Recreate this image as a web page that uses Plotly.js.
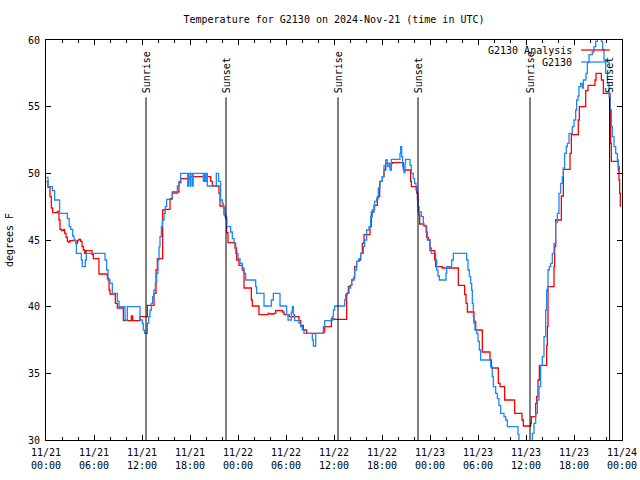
<!DOCTYPE html>
<html><head><meta charset="utf-8">
<script src="https://cdn.plot.ly/plotly-3.0.1.min.js"></script>
<style>html,body{margin:0;padding:0;background:#fff}</style>
</head><body><div id="chart" style="width:640px;height:480px"></div>
<script>
const startTime = Date.UTC(2024, 10, 21, 0, 0, 0);

const seriesNames = ['G2130 Analysis', 'G2130'];
const seriesColors = ['#ff0000', '#1a88ff'];

const analysisHours = [0.05,0.25,0.5,0.67,0.83,1.42,1.62,1.75,1.92,2.17,2.33,2.5,2.67,2.83,3.0,3.71,3.92,4.08,4.33,4.5,4.67,4.83,5.0,5.75,5.92,6.62,7.67,7.88,8.0,8.67,8.92,9.67,10.67,10.83,11.75,12.67,13.5,13.75,13.92,14.58,14.83,15.5,15.79,16.62,16.83,18.0,20.58,20.79,21.62,21.75,22.25,22.46,22.58,22.75,23.62,23.83,24.12,24.54,24.75,25.67,25.79,26.62,27.75,28.0,28.5,28.71,29.54,29.75,30.38,31.62,31.83,32.17,32.58,34.67,34.83,35.67,36.0,37.58,37.79,38.0,38.21,38.42,38.58,38.83,39.12,39.33,39.54,39.75,40.5,40.67,41.0,41.42,41.71,42.04,42.25,42.46,43.29,44.67,45.58,45.67,46.33,46.5,46.62,46.71,47.25,47.58,47.79,48.0,48.58,48.71,49.54,51.54,52.33,52.5,52.67,53.5,53.71,54.54,55.5,55.67,56.54,56.75,57.33,58.58,59.5,59.67,60.58,60.67,61.21,61.33,61.5,61.67,62.58,62.67,62.75,63.5,63.58,63.71,64.42,64.67,65.5,65.67,66.54,66.67,67.46,67.75,68.62,68.75,69.42,69.67,70.5,70.58,70.67,71.54,71.62,71.71,71.79];
const analysisTemps = [49.4,48.95,48.25,47.4,47.05,47.15,46.5,45.8,45.7,45.8,45.5,45.2,44.9,44.85,44.95,44.75,44.95,45.05,44.9,44.5,44.25,44.0,44.2,43.9,43.6,42.45,42.1,41.25,40.95,40.25,39.9,38.95,39.3,38.95,39.25,40.1,41.0,42.75,43.6,47.25,47.3,48.1,48.6,49.3,49.6,49.75,49.4,49.05,48.5,47.55,46.9,46.6,45.55,44.8,44.4,43.5,43.1,42.75,41.4,40.5,40.05,39.4,39.5,39.45,39.5,39.7,39.6,39.4,39.25,38.95,38.6,38.25,38.0,38.1,38.5,39.1,39.05,41.0,41.5,41.6,42.0,42.1,43.0,43.4,43.5,44.0,44.75,45.4,46.0,47.1,47.6,48.25,49.4,49.75,50.25,50.75,50.8,50.25,49.4,49.0,48.5,47.5,46.9,46.2,46.05,45.2,45.0,44.2,43.5,43.0,42.9,41.6,40.9,40.25,39.6,38.9,38.25,36.6,36.0,35.4,34.25,34.0,33.0,32.0,31.5,31.05,31.25,31.75,32.75,33.25,34.5,35.6,37.1,38.5,41.5,43.0,44.5,46.5,48.3,50.3,51.5,52.9,54.0,55.0,56.2,56.6,57.0,57.5,57.0,56.0,54.75,52.25,50.9,50.25,49.5,48.5,47.5];

const obsHours = [0.05,0.25,0.8,1.08,1.7,2.67,2.9,3.08,3.33,3.5,3.7,3.8,4.42,4.54,4.92,5.04,7.38,7.58,7.75,8.0,8.29,8.92,9.13,9.88,10.17,11.75,12.04,12.17,12.33,12.67,12.83,13.0,13.17,13.33,13.5,13.67,13.83,14.0,14.13,14.25,14.42,14.54,14.75,14.92,15.08,15.79,16.42,16.62,16.83,17.7,17.8,18.0,18.1,18.3,18.4,19.67,19.79,19.92,20.04,20.17,21.29,21.58,21.83,22.04,22.17,22.38,22.58,23.08,23.29,23.5,23.71,24.0,24.25,24.54,24.75,24.96,26.21,26.33,27.25,28.17,28.42,29.25,30.08,30.25,30.67,30.79,30.92,31.08,31.62,31.83,32.04,32.25,33.29,33.42,33.71,34.67,34.83,35.79,35.92,36.08,37.33,37.46,37.67,37.88,38.08,38.21,38.5,38.58,38.83,39.12,39.33,39.67,39.83,40.08,40.38,40.58,40.79,41.08,41.33,41.54,41.75,42.04,42.25,42.46,42.67,42.88,43.0,43.17,44.25,44.33,44.46,44.58,44.75,44.88,44.96,45.5,45.67,45.92,46.08,46.25,46.42,46.5,46.92,47.17,47.5,47.67,48.0,48.17,48.71,48.83,49.0,49.17,50.0,50.08,50.71,50.92,52.58,52.75,52.92,53.08,53.21,53.29,53.42,53.5,53.62,53.83,54.0,54.17,54.33,55.58,55.79,55.92,56.21,56.42,56.62,56.83,57.25,57.46,57.67,59.0,59.12,60.58,60.79,61.0,61.21,61.42,61.62,61.83,62.04,62.25,62.46,62.58,62.75,62.92,63.08,63.29,63.5,63.71,63.92,64.12,64.33,64.54,64.67,64.83,65.04,65.17,65.38,65.79,66.0,66.21,66.33,66.5,66.62,66.83,67.04,67.17,67.5,67.67,67.88,68.29,68.5,68.71,68.92,69.42,69.58,69.75,69.96,70.17,70.38,70.5,70.67,70.79,71.0,71.21,71.42,71.54,71.67];
const obsTemps = [49.7,49.0,48.7,48.0,47.0,46.6,46.0,45.8,45.3,45.0,44.75,44.0,43.5,43.0,43.5,44.0,43.5,42.75,42.0,41.75,41.0,40.4,40.0,39.0,40.0,39.0,38.75,38.25,38.0,38.75,39.25,39.75,40.25,40.75,41.25,41.75,42.5,43.5,44.5,45.25,46.0,46.5,47.0,47.5,48.05,48.5,49.05,49.4,50.0,49.05,50.0,49.05,50.0,49.05,50.0,49.4,50.0,49.4,50.0,49.05,50.0,49.4,48.0,47.75,47.4,46.75,46.0,45.6,45.1,44.75,44.0,43.6,43.25,42.9,42.5,42.0,41.5,41.0,40.05,40.5,41.0,40.05,39.4,39.0,39.6,40.0,39.4,38.95,38.75,38.5,38.25,38.0,37.5,37.05,38.0,38.5,38.95,39.25,39.75,40.05,40.5,40.9,41.0,41.4,41.6,42.0,42.25,42.75,43.4,43.6,44.0,44.5,45.0,45.75,46.0,46.75,47.25,47.9,48.1,48.9,49.4,49.75,50.6,51.0,50.5,50.75,50.25,51.05,51.5,52.0,51.25,50.5,50.05,50.75,51.05,50.6,50.0,49.6,49.25,48.75,48.0,47.1,46.75,46.1,45.6,45.0,44.4,44.0,43.5,42.75,42.3,42.0,42.5,43.0,43.5,44.0,43.5,42.75,42.25,41.75,41.25,40.25,39.25,38.75,38.25,38.0,37.4,36.75,36.0,35.5,34.75,34.0,33.5,33.1,32.6,32.0,31.75,31.5,31.0,30.4,29.0,29.5,30.5,31.25,32.0,33.0,34.0,35.6,36.25,37.75,39.75,41.25,42.75,43.0,43.25,44.0,44.75,46.3,47.0,48.5,49.25,49.75,50.4,51.5,52.0,52.25,53.0,53.5,54.0,54.75,55.5,55.8,56.5,56.75,56.4,57.0,57.5,58.3,58.9,59.1,59.5,59.9,60.5,59.9,59.3,58.5,57.5,56.75,55.75,54.75,53.5,52.75,52.0,51.5,51.0,50.5,50.0];

const sunHours = [12.5, 22.5, 36.5, 46.5, 60.5, 70.45];
const sunLabels = ['Sunrise', 'Sunset', 'Sunrise', 'Sunset', 'Sunrise', 'Sunset'];

const tickHours = [0, 6, 12, 18, 24, 30, 36, 42, 48, 54, 60, 66, 72];
const tickLabels = ['11/21<br>00:00','11/21<br>06:00','11/21<br>12:00','11/21<br>18:00','11/22<br>00:00','11/22<br>06:00','11/22<br>12:00','11/22<br>18:00','11/23<br>00:00','11/23<br>06:00','11/23<br>12:00','11/23<br>18:00','11/24<br>00:00'];
const yTicks = [30, 35, 40, 45, 50, 55, 60];

function pad(n) { return (n < 10 ? '0' : '') + n; }
function toDate(h) {
  const d = new Date(startTime + Math.round(h * 3600000));
  return d.getUTCFullYear() + '-' + pad(d.getUTCMonth() + 1) + '-' + pad(d.getUTCDate()) + ' ' +
    pad(d.getUTCHours()) + ':' + pad(d.getUTCMinutes()) + ':' + pad(d.getUTCSeconds());
}

const FONT = 'DejaVu Sans Mono, Liberation Mono, monospace';

const traces = [
  { x: analysisHours.map(toDate), y: analysisTemps, name: seriesNames[0], type: 'scatter', mode: 'lines',
    line: { color: seriesColors[0], width: 1.3, shape: 'hv' } },
  { x: obsHours.map(toDate), y: obsTemps, name: seriesNames[1], type: 'scatter', mode: 'lines',
    line: { color: seriesColors[1], width: 1.3, shape: 'hv' } }
];

const shapes = [];
const annotations = [];
sunHours.forEach(function (h, i) {
  shapes.push({ type: 'line', xref: 'x', yref: 'y', x0: toDate(h), x1: toDate(h), y0: 30, y1: 55.7,
    line: { color: '#000', width: 1 } });
  annotations.push({ xref: 'x', yref: 'y', x: toDate(h), y: 55.85, text: sunLabels[i], textangle: -90,
    showarrow: false, xanchor: 'center', yanchor: 'bottom', font: { family: FONT, size: 10, color: '#000' } });
});

// legend (text right-aligned, sample line to the right)
const legendY = [0.975, 0.945];
seriesNames.forEach(function (n, i) {
  annotations.push({ xref: 'paper', yref: 'paper', x: 0.917, y: legendY[i], text: n, showarrow: false,
    xanchor: 'right', yanchor: 'middle', font: { family: FONT, size: 10, color: '#000' } });
  shapes.push({ type: 'line', xref: 'paper', yref: 'paper', x0: 0.929, x1: 0.979, y0: legendY[i], y1: legendY[i],
    line: { color: seriesColors[i], width: 1.3 } });
});

const layout = {
  width: 640, height: 480,
  margin: { l: 46, r: 18, t: 40, b: 40 },
  paper_bgcolor: '#fff', plot_bgcolor: '#fff',
  font: { family: FONT, size: 10, color: '#000' },
  showlegend: false,
  title: { text: 'Temperature for G2130 on 2024-Nov-21 (time in UTC)', x: 0.5, xref: 'paper', xanchor: 'center',
    y: 1 - 19 / 480, yref: 'container', yanchor: 'middle', font: { family: FONT, size: 10, color: '#000' } },
  xaxis: {
    type: 'date', range: [toDate(0), toDate(72)],
    tickmode: 'array', tickvals: tickHours.map(toDate), ticktext: tickLabels,
    ticks: 'inside', ticklen: 5, tickwidth: 1, tickcolor: '#000', ticklabelstandoff: 3,
    minor: { tickmode: 'linear', tick0: toDate(0), dtick: 2 * 3600000, ticks: 'inside', ticklen: 3, tickcolor: '#000', showgrid: false },
    showline: true, linecolor: '#000', linewidth: 1, mirror: 'allticks',
    showgrid: false, zeroline: false, automargin: false,
    tickfont: { family: FONT, size: 10, color: '#000' }
  },
  yaxis: {
    range: [30, 60], tickmode: 'array', tickvals: yTicks,
    ticks: 'inside', ticklen: 5, tickwidth: 1, tickcolor: '#000', ticklabelstandoff: 3,
    showline: true, linecolor: '#000', linewidth: 1, mirror: 'allticks',
    showgrid: false, zeroline: false, automargin: false,
    tickfont: { family: FONT, size: 10, color: '#000' },
    title: { text: 'degrees F', font: { family: FONT, size: 10, color: '#000' }, standoff: 12 }
  },
  shapes: shapes,
  annotations: annotations
};

Plotly.newPlot('chart', traces, layout, { staticPlot: true, displayModeBar: false });
</script>
</body></html>
